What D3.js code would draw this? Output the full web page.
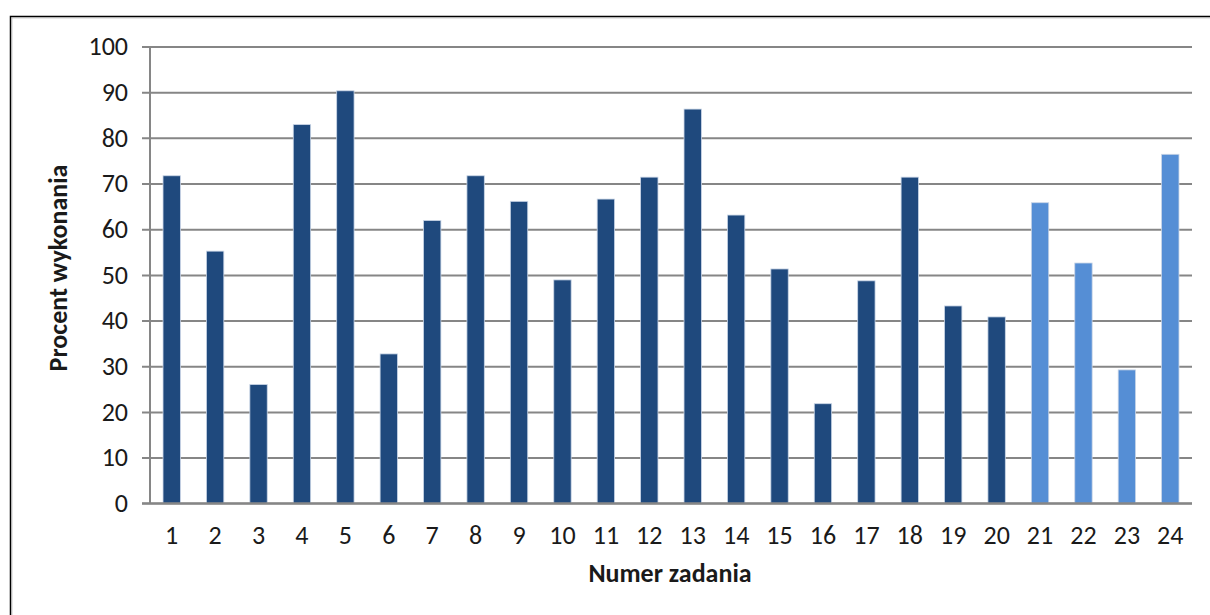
<!DOCTYPE html>
<html>
<head>
<meta charset="utf-8">
<script src="https://cdn.jsdelivr.net/npm/d3@7"></script>
<style>
  body { margin: 0; background: #fff; }
  svg text { font-family: Carlito, Lato, "Open Sans", sans-serif; fill: #1a1a1a; }
</style>
</head>
<body>
<div class="chart"></div>
<script>
// data
var tasks = ["1","2","3","4","5","6","7","8","9","10","11","12","13","14","15","16","17","18","19","20","21","22","23","24"];
var percents = [71.7, 55.2, 26.0, 82.9, 90.3, 32.7, 61.9, 71.7, 66.1, 48.9, 66.6, 71.4, 86.3, 63.1, 51.3, 21.8, 48.7, 71.4, 43.2, 40.8, 65.8, 52.6, 29.2, 76.4];
var groups = ["a","a","a","a","a","a","a","a","a","a","a","a","a","a","a","a","a","a","a","a","b","b","b","b"];
var yTicks = [0, 10, 20, 30, 40, 50, 60, 70, 80, 90, 100];

var svgWidth = 1210;
var svgHeight = 615;
var margin = {top: 46.5, right: 18, bottom: 111.7, left: 150};
var width = svgWidth - margin.left - margin.right;
var height = svgHeight - margin.top - margin.bottom;

var svg = d3.select('.chart')
  .append('svg')
  .attr('width', svgWidth)
  .attr('height', svgHeight);

// outer frame (runs off right and bottom edge)
svg.append('rect')
  .attr('x', 10.5).attr('y', 16.5)
  .attr('width', 1300).attr('height', 700)
  .attr('fill', 'none')
  .attr('stroke', '#000')
  .attr('stroke-width', 1.5);
svg.append('path')
  .attr('d', 'M11.8,700V17.8H1300')
  .attr('fill', 'none')
  .attr('stroke', '#b0b0b0')
  .attr('stroke-width', 1);

var chart = svg.append('g')
  .attr('transform', 'translate(' + margin.left + ',' + margin.top + ')');

var data = tasks.map(function(t, i) {
  return {task: t, value: percents[i], group: groups[i]};
});

var xScale = d3.scaleBand().domain(tasks).range([0, width]).paddingInner(0.6).paddingOuter(0.3);
var yScale = d3.scaleLinear().domain([0, 100]).range([height, 0]);
var colors = {a: '#1f497d', b: '#558ed5'};

// gridlines + y ticks
var leftAxis = d3.axisLeft(yScale)
  .tickValues(yTicks)
  .tickSize(-width)
  .tickPadding(22)
  .tickFormat(d3.format('d'));
var gy = chart.append('g').call(leftAxis);
gy.select('.domain').remove();
gy.selectAll('.tick line')
  .attr('x1', -8)
  .attr('stroke', '#868686')
  .attr('stroke-width', 2);
gy.selectAll('.tick text')
  .attr('font-size', 26)
  .attr('fill', '#1a1a1a');

// y axis line
chart.append('line')
  .attr('x1', 0).attr('x2', 0)
  .attr('y1', 0).attr('y2', height)
  .attr('stroke', '#868686')
  .attr('stroke-width', 2);

// bars
chart.selectAll('rect.bar')
  .data(data)
  .enter()
  .append('rect')
  .attr('class', 'bar')
  .attr('x', function(d) { return xScale(d.task); })
  .attr('y', function(d) { return yScale(d.value); })
  .attr('width', xScale.bandwidth())
  .attr('height', function(d) { return height - yScale(d.value); })
  .attr('fill', function(d) { return colors[d.group]; })
  .attr('stroke', '#c9d5e6')
  .attr('stroke-width', 0.8);

// x axis labels
var bottomAxis = d3.axisBottom(xScale).tickSize(0).tickPadding(22);
var gx = chart.append('g')
  .attr('transform', 'translate(0,' + height + ')')
  .call(bottomAxis);
gx.select('.domain').remove();
gx.selectAll('.tick text')
  .attr('font-size', 26)
  .attr('fill', '#1a1a1a');

// baseline over bars
chart.append('line')
  .attr('x1', -8).attr('x2', width)
  .attr('y1', height).attr('y2', height)
  .attr('stroke', '#868686')
  .attr('stroke-width', 2);

// axis titles
svg.append('text')
  .attr('transform', 'translate(67,268) rotate(-90)')
  .attr('text-anchor', 'middle')
  .attr('font-size', 26)
  .attr('font-weight', 'bold')
  .text('Procent wykonania');

svg.append('text')
  .attr('x', 670)
  .attr('y', 582)
  .attr('text-anchor', 'middle')
  .attr('font-size', 26)
  .attr('font-weight', 'bold')
  .text('Numer zadania');
</script>
</body>
</html>
